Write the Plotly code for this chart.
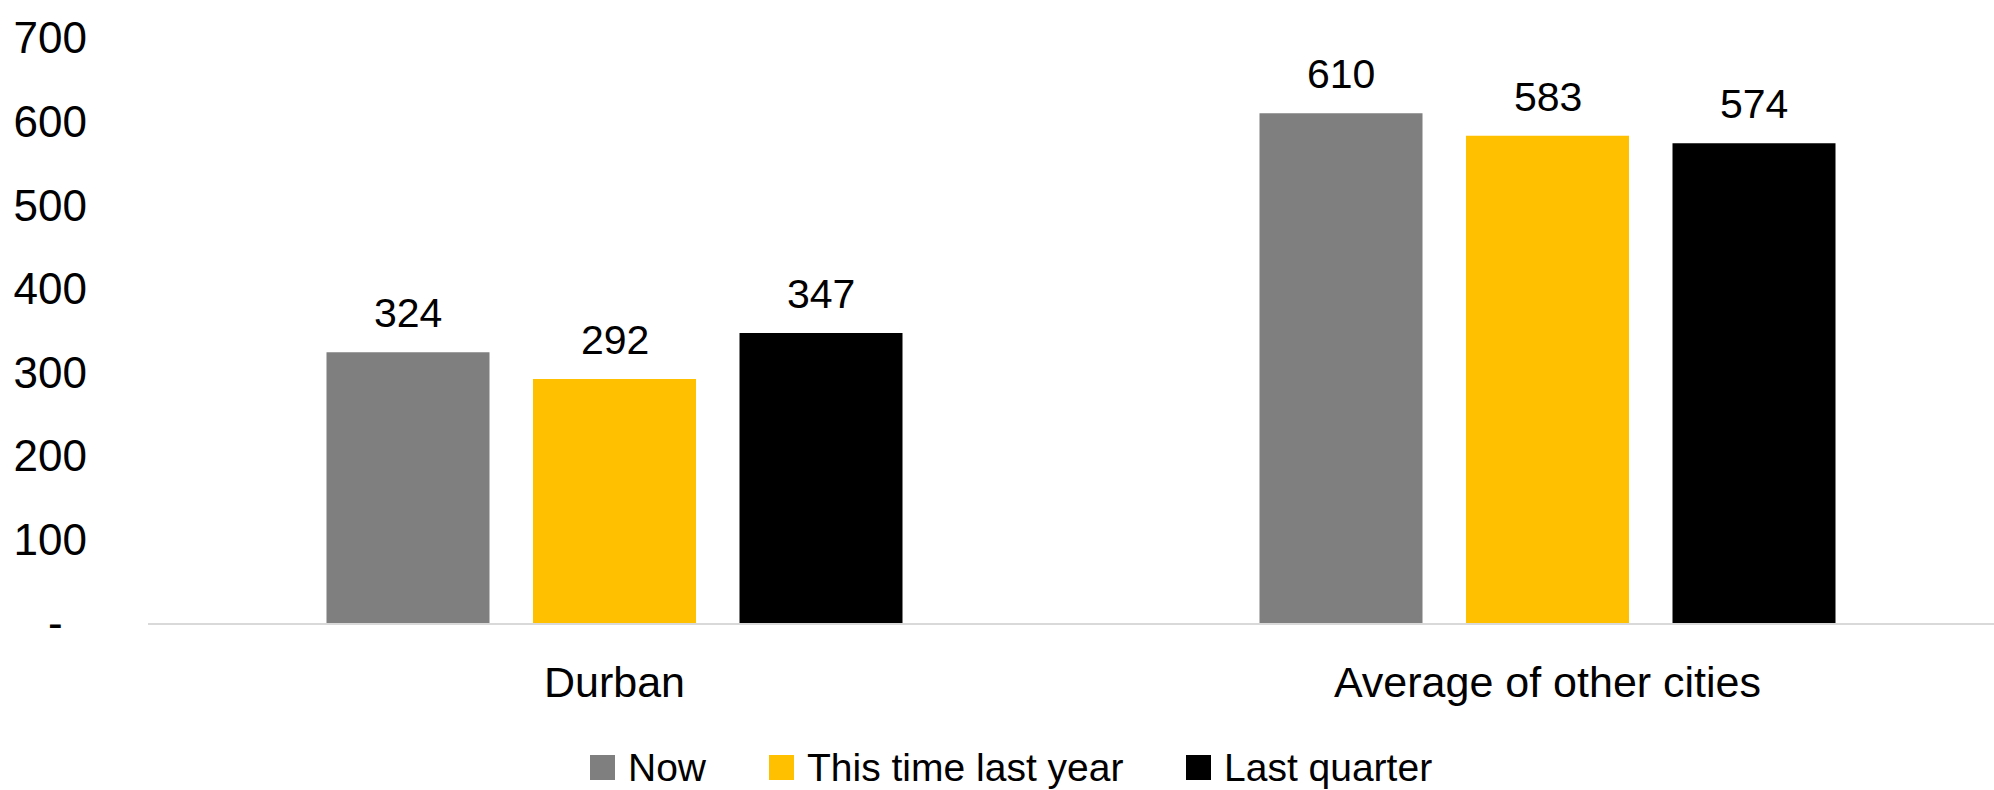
import plotly.graph_objects as go

# Chart data
categories = ["Durban", "Average of other cities"]
series_names = ["Now", "This time last year", "Last quarter"]
series_values = [
    [324, 610],
    [292, 583],
    [347, 574],
]
series_colors = ["#7F7F7F", "#FFC000", "#000000"]
y_tick_values = [0, 100, 200, 300, 400, 500, 600, 700]
y_tick_labels = ["-\u00a0\u00a0", "100", "200", "300", "400", "500", "600", "700"]

FONT = "Liberation Sans, Arial, sans-serif"
W, H = 1994, 790
ML, MR, MT, MB = 148, 0, 38, 167
PW, PH = W - ML - MR, H - MT - MB
BAND = 933.0          # pixel width of one category
SLOT = 206.5          # pixel step between bars of a group

fig = go.Figure()
for name, vals, color in zip(series_names, series_values, series_colors):
    fig.add_trace(go.Bar(
        x=categories, y=vals, name=name,
        marker=dict(color=color, line=dict(width=0)),
        showlegend=False,
    ))

# value labels above each bar
annotations = []
for i, vals in enumerate(series_values):
    for cat, v in zip(categories, vals):
        annotations.append(dict(
            x=cat, y=v, xref="x", yref="y", text=str(v),
            xshift=(i - 1) * SLOT, yshift=14,
            showarrow=False, xanchor="center", yanchor="bottom",
            font=dict(family=FONT, size=41, color="#000000"),
        ))

# legend row below the axis
legend_x = [590, 769, 1186]
legend_y = 767
shapes = []
for lx, name, color in zip(legend_x, series_names, series_colors):
    shapes.append(dict(
        type="rect", xref="paper", yref="paper",
        x0=(lx - ML) / PW, x1=(lx + 25 - ML) / PW,
        y0=(H - MB - (legend_y + 13)) / PH, y1=(H - MB - (legend_y - 12)) / PH,
        fillcolor=color, line=dict(width=0),
    ))
    annotations.append(dict(
        x=(lx + 36 - ML) / PW, y=(H - MB - legend_y) / PH,
        xref="paper", yref="paper", text=name, showarrow=False,
        xanchor="left", yanchor="middle",
        font=dict(family=FONT, size=39, color="#000000"),
    ))

fig.update_layout(
    width=W, height=H,
    margin=dict(l=ML, r=MR, t=MT, b=MB, pad=0),
    paper_bgcolor="#FFFFFF", plot_bgcolor="#FFFFFF",
    barmode="group",
    bargap=1 - 3 * SLOT / BAND,
    bargroupgap=(SLOT - 163) / SLOT,
    showlegend=False,
    annotations=annotations,
    shapes=shapes,
    font=dict(family=FONT, color="#000000"),
)
fig.update_xaxes(
    type="category",
    range=[-0.5, -0.5 + PW / BAND],
    showgrid=False, zeroline=False,
    showline=True, linecolor="#D9D9D9", linewidth=2,
    ticks="", tickfont=dict(family=FONT, size=43, color="#000000"),
    ticklabelstandoff=20,
)
fig.update_yaxes(
    range=[0, 700],
    tickvals=y_tick_values, ticktext=y_tick_labels,
    showgrid=False, zeroline=False, showline=False,
    ticks="", tickfont=dict(family=FONT, size=44, color="#000000"),
    ticklabelstandoff=60,
)

fig.write_html("out.html")
